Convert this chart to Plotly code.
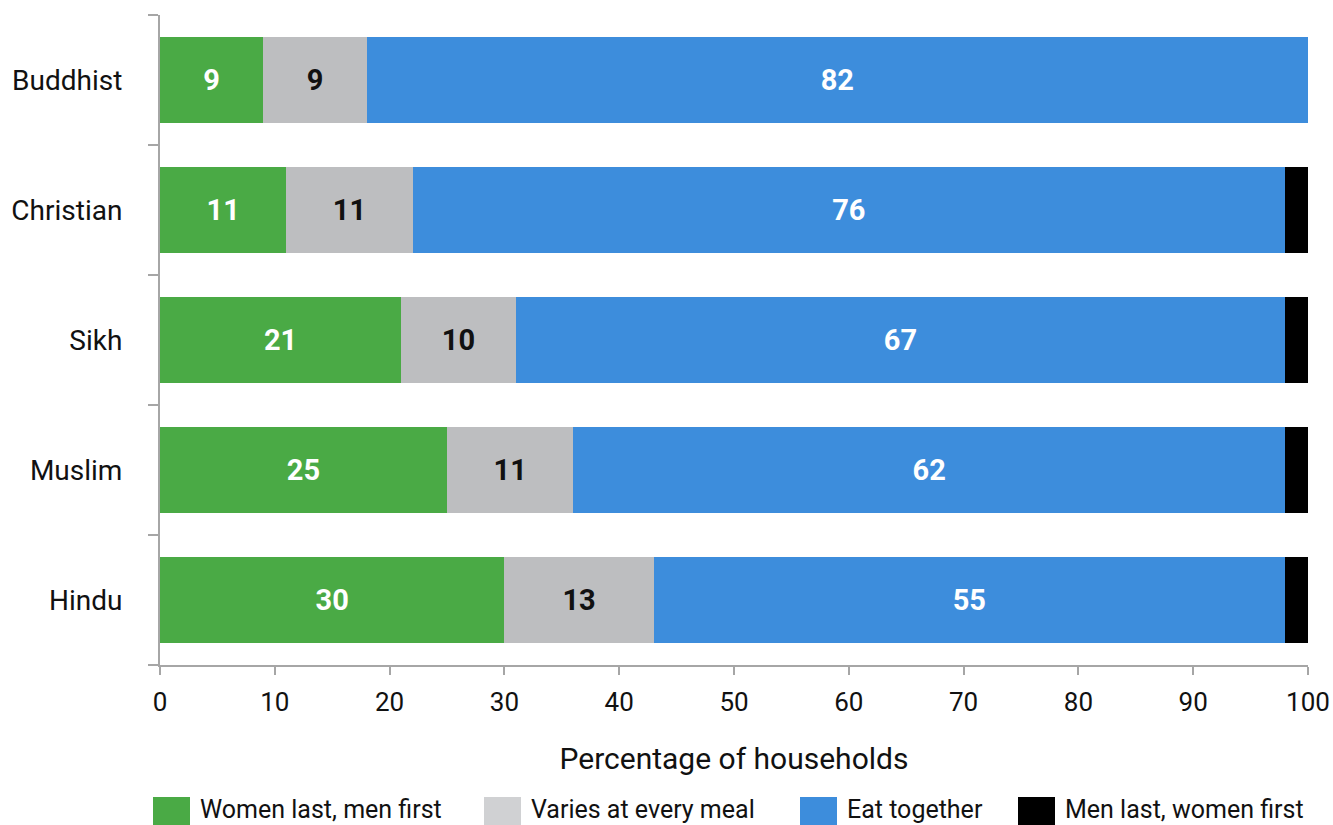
import plotly.graph_objects as go

# Share of households by meal-time practice, per religion
religions = ["Buddhist", "Christian", "Sikh", "Muslim", "Hindu"]
series_names = ["Women last, men first", "Varies at every meal", "Eat together", "Men last, women first"]
women_last = [9, 11, 21, 25, 30]
varies = [9, 11, 10, 11, 13]
together = [82, 76, 67, 62, 55]
men_last = [0, 2, 2, 2, 2]
x_ticks = [0, 10, 20, 30, 40, 50, 60, 70, 80, 90, 100]

colors = ["#4aaa45", "#bdbec0", "#3d8ddc", "#000000"]
label_colors = ["#ffffff", "#111111", "#ffffff", "#ffffff"]
FONT = "Roboto, 'Noto Sans', sans-serif"

W, H = 1333, 825
L, R, T, B = 160, 25, 15, 160

fig = go.Figure()
for i, (name, vals) in enumerate(zip(series_names, [women_last, varies, together, men_last])):
    show_text = i < 3
    fig.add_trace(go.Bar(
        y=religions, x=vals, name=name, orientation="h",
        marker=dict(color=colors[i], line=dict(width=0)),
        text=[str(v) for v in vals] if show_text else None,
        textposition="inside" if show_text else "none",
        insidetextanchor="middle",
        textfont=dict(family=FONT, size=29, color=label_colors[i], weight="bold"),
        constraintext="none",
        showlegend=False,
        hoverinfo="x+y+name",
    ))

fig.update_layout(
    width=W, height=H,
    barmode="stack", bargap=0.34,
    margin=dict(l=L, r=R, t=T, b=B, autoexpand=False),
    paper_bgcolor="white", plot_bgcolor="white",
    font=dict(family=FONT, color="#111111"),
    showlegend=False,
)
fig.update_xaxes(
    range=[0, 100], tickvals=x_ticks, ticktext=[str(v) for v in x_ticks],
    automargin=False,
    showgrid=False, zeroline=False,
    showline=True, linecolor="#a6a6a6", linewidth=2,
    ticks="outside", ticklen=8, tickwidth=2, tickcolor="#a6a6a6",
    tickfont=dict(size=26, color="#111111"),
    ticklabelstandoff=5,
    title=dict(text="Percentage of households", font=dict(size=30, color="#111111"), standoff=32),
)
fig.update_yaxes(
    categoryorder="array", categoryarray=religions[::-1],
    tickson="boundaries",
    automargin=False,
    showgrid=False, zeroline=False,
    showline=True, linecolor="#a6a6a6", linewidth=2,
    ticks="outside", ticklen=10, tickwidth=2, tickcolor="#a6a6a6",
    tickfont=dict(size=28, color="#111111"),
    ticklabelstandoff=30,
)

# Legend drawn with large swatches below the axis title
plot_w = W - L - R
plot_h = H - T - B

def px_x(px):
    return (px - L) / plot_w

def px_y(py):
    return (H - B - py) / plot_h

legend_x = [153, 484, 800, 1018]
sw_w, sw_top, sw_bot = 37, 797, 832
for name, col, lx in zip(series_names, colors, legend_x):
    fig.add_shape(type="rect", xref="paper", yref="paper",
                  x0=px_x(lx), x1=px_x(lx + sw_w), y0=px_y(sw_bot), y1=px_y(sw_top),
                  fillcolor=col if col != "#bdbec0" else "#d0d1d3", line=dict(width=0), layer="above")
    fig.add_annotation(xref="paper", yref="paper", x=px_x(lx + sw_w + 8), y=px_y(809),
                       text=name, showarrow=False, xanchor="left", yanchor="middle",
                       font=dict(family=FONT, size=25, color="#111111"))

fig.write_html("out.html")
